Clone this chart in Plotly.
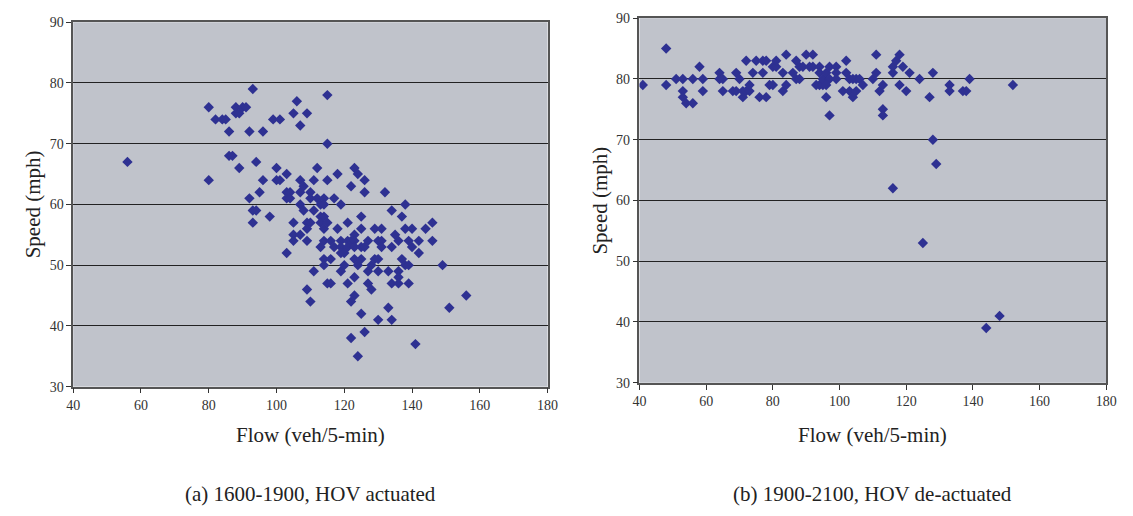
import plotly.graph_objects as go

# ---- Data: (a) 1600-1900, HOV actuated ----
flow_a = [56, 80, 80, 82, 84, 85, 86, 86, 87, 88, 88, 89, 89, 90, 91, 92, 92, 93, 93, 94,
          93, 94, 95, 96, 96, 98, 99, 100, 100, 101, 101, 103, 103, 103, 103, 104, 104, 105, 105, 105,
          105, 106, 107, 107, 107, 107, 107, 108, 108, 109, 109, 109, 109, 109, 110, 110, 110, 110, 111, 111,
          111, 112, 112, 113, 113, 113, 113, 114, 114, 114, 114, 114, 114, 114, 115, 115, 115, 115, 116, 116,
          115, 116, 117, 117, 118, 118, 119, 119, 119, 119, 119, 120, 120,
          121, 121, 121, 121, 122, 122, 122, 122, 123, 123, 123, 123, 123, 123, 123,
          124, 124, 124, 125, 125, 125, 125, 125, 126, 126, 126, 126, 127, 127, 127, 128, 128,
          129, 129, 130, 130, 130, 130, 131, 131, 131, 132, 133, 133, 134, 134, 134, 134, 135,
          136, 136, 136, 136, 137, 137, 138, 138, 138, 139, 139, 139, 140, 140, 141, 142, 142,
          144, 146, 146, 149, 151, 156]
speed_a = [67, 76, 64, 74, 74, 74, 72, 68, 68, 76, 75, 75, 66, 76, 76, 72, 61, 79, 59, 59,
           57, 67, 62, 72, 64, 58, 74, 66, 64, 74, 64, 65, 62, 61, 52, 62, 61, 75, 57, 55,
           54, 77, 73, 64, 62, 60, 55, 63, 59, 75, 57, 56, 54, 46, 62, 61, 57, 44, 64, 59,
           49, 66, 61, 60, 58, 57, 53, 61, 60, 58, 56, 54, 51, 50, 78, 70, 64, 57, 54, 51,
           47, 47, 61, 53, 65, 56, 60, 54, 53, 52, 49, 52, 50,
           57, 54, 53, 47, 63, 54, 44, 38, 66, 55, 54, 53, 51, 48, 45,
           65, 50, 35, 58, 56, 53, 51, 42, 64, 62, 53, 39, 54, 49, 47, 50, 46,
           56, 51, 54, 51, 49, 41, 56, 54, 53, 62, 49, 43, 59, 53, 47, 41, 55,
           54, 49, 48, 47, 58, 51, 60, 56, 50, 54, 50, 47, 56, 53, 37, 54, 52,
           56, 57, 54, 50, 43, 45]

# ---- Data: (b) 1900-2100, HOV de-actuated ----
flow_b = [41, 48, 48, 51, 53, 53, 53, 54, 56, 56, 58, 59, 59, 64, 64, 65, 65, 68, 69, 69,
          70, 71, 71, 72, 72, 73, 73, 74, 75, 76, 77, 77, 78, 78, 79, 80, 80, 81, 81, 84,
          83, 83, 84, 86, 87, 87, 88, 88, 89, 90, 91, 92, 92, 93, 94, 94, 94, 95, 95, 96,
          97, 96, 96, 97, 97, 99, 99, 99, 101, 102, 102, 103, 104, 105, 106, 103, 104, 105, 107, 110,
          111, 111, 112, 113, 113, 113, 116, 116, 117, 118, 118, 119, 120, 121, 124, 127, 128,
          133, 133, 137, 138, 139, 152,
          128, 129, 116, 125, 144, 148]
speed_b = [79, 79, 85, 80, 80, 78, 77, 76, 76, 80, 82, 80, 78, 81, 80, 80, 78, 78, 78, 81,
           80, 77, 78, 83, 78, 78, 79, 81, 83, 77, 83, 81, 83, 77, 79, 79, 82, 82, 83, 84,
           81, 78, 79, 81, 83, 80, 80, 82, 82, 84, 82, 84, 82, 79, 79, 82, 81, 79, 80, 81,
           80, 79, 77, 74, 82, 82, 81, 80, 78, 83, 81, 80, 80, 80, 80, 78, 77, 78, 79, 80,
           81, 84, 78, 79, 75, 74, 81, 82, 83, 84, 79, 82, 78, 81, 80, 77, 81,
           79, 78, 78, 78, 80, 79,
           70, 66, 62, 53, 39, 41]

x_ticks = [40, 60, 80, 100, 120, 140, 160, 180]
y_ticks = [30, 40, 50, 60, 70, 80, 90]
captions = ["(a) 1600-1900, HOV actuated", "(b) 1900-2100, HOV de-actuated"]
x_title = "Flow (veh/5-min)"
y_title = "Speed (mph)"

W, H = 1133, 516
FONT = "'Liberation Serif', 'Times New Roman', Times, serif"
MARK = "#2e3192"
BG = "#c0c3cb"

fig = go.Figure()
fig.add_trace(go.Scatter(x=flow_a, y=speed_a, mode="markers", xaxis="x", yaxis="y",
                         marker=dict(symbol="diamond", size=8, color=MARK, line=dict(width=0)),
                         showlegend=False))
fig.add_trace(go.Scatter(x=flow_b, y=speed_b, mode="markers", xaxis="x2", yaxis="y2",
                         marker=dict(symbol="diamond", size=8, color=MARK, line=dict(width=0)),
                         showlegend=False))

def px_x(p):
    return p / W

def px_y(p):
    return 1 - p / H

xcommon = dict(range=[40, 180], tickvals=x_ticks, ticks="outside", ticklen=5, tickcolor="#333",
               showgrid=False, zeroline=False, showline=True, linecolor="#555", linewidth=1.5,
               mirror=True, tickfont=dict(family=FONT, size=14, color="#333"))
ycommon = dict(range=[30, 90], tickvals=y_ticks, ticks="outside", ticklen=5, tickcolor="#333",
               showgrid=True, gridcolor="#222", gridwidth=1, zeroline=False, showline=True,
               linecolor="#555", linewidth=1.5, mirror=True,
               tickfont=dict(family=FONT, size=14, color="#333"))

# plot areas in pixels: left, right, top, bottom
L = (67.3, 549.3, 15.7, 391.0)
R = (642.7, 1117.0, 11.5, 387.0)

fig.update_layout(
    width=W, height=H, margin=dict(l=0, r=0, t=0, b=0),
    paper_bgcolor="white", plot_bgcolor=BG,
    font=dict(family=FONT),
    xaxis=dict(domain=[px_x(L[0]), px_x(L[1])], anchor="y", **xcommon),
    yaxis=dict(domain=[px_y(L[3]), px_y(L[2])], anchor="x", **ycommon),
    xaxis2=dict(domain=[px_x(R[0]), px_x(R[1])], anchor="y2", **xcommon),
    yaxis2=dict(domain=[px_y(R[3]), px_y(R[2])], anchor="x2", **ycommon),
)

ann = []
for (area, cap) in ((L, captions[0]), (R, captions[1])):
    cx = (area[0] + area[1]) / 2
    ann.append(dict(x=px_x(cx), y=px_y(441), xref="paper", yref="paper", text=x_title,
                    showarrow=False, font=dict(family=FONT, size=21, color="#222"),
                    xanchor="center", yanchor="middle"))
    ann.append(dict(x=px_x(cx), y=px_y(502), xref="paper", yref="paper", text=cap,
                    showarrow=False, font=dict(family=FONT, size=21, color="#222"),
                    xanchor="center", yanchor="middle"))
    cy = (area[2] + area[3]) / 2
    ann.append(dict(x=px_x(area[0] - 40), y=px_y(cy), xref="paper", yref="paper", text=y_title,
                    showarrow=False, textangle=-90, font=dict(family=FONT, size=21, color="#222"),
                    xanchor="center", yanchor="middle"))
fig.update_layout(annotations=ann)

fig.write_html("out.html")
